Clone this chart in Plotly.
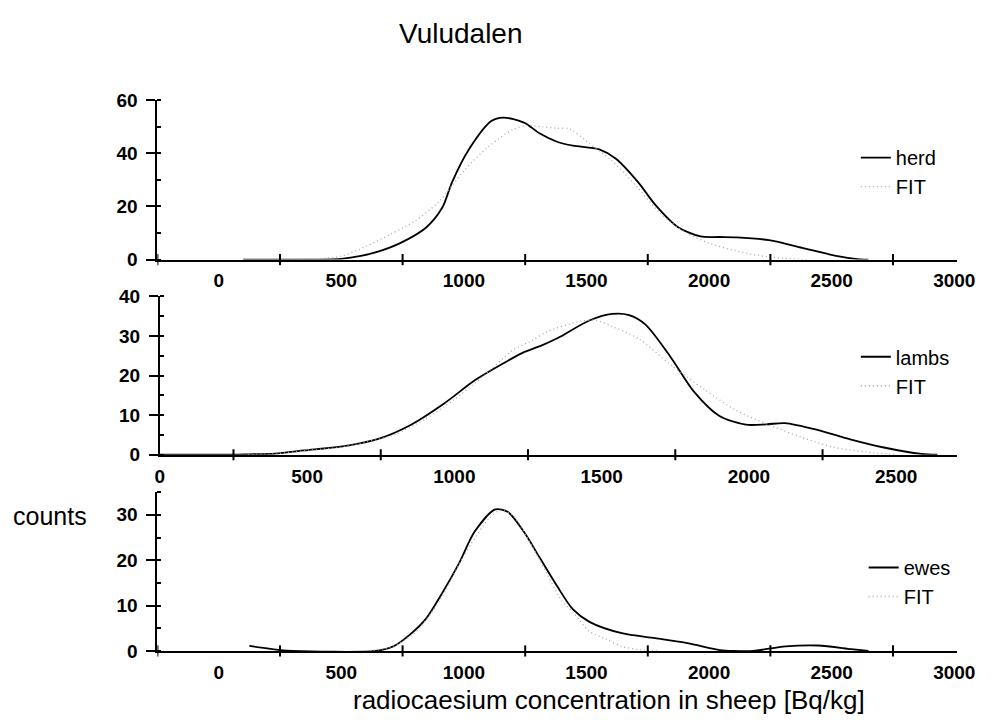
import plotly.graph_objects as go

# ---------------- data ----------------
herd_x = [100, 260, 400, 500, 580, 650, 740, 845, 912, 952, 1019, 1112, 1160, 1245, 1310, 1380, 1445, 1552, 1620, 1712, 1780, 1872, 1965, 2040, 2112, 2245, 2380, 2512, 2605, 2650]
herd_y = [0, 0, 0, 0.3, 1.4, 3, 6.2, 12, 19.6, 29.2, 41.3, 52.2, 53.5, 51.6, 47.5, 44.4, 42.9, 41.5, 38, 29, 20.7, 12.3, 8.7, 8.5, 8.4, 7.3, 4.4, 1.5, 0.2, 0]
herd_fit_x = [300, 400, 500, 600, 700, 800, 900, 1000, 1100, 1200, 1260, 1320, 1380, 1432, 1512, 1600, 1700, 1800, 1900, 2000, 2100, 2200, 2300, 2400]
herd_fit_y = [0, 0.3, 1.3, 5, 9.5, 14.5, 22, 33.5, 42.5, 49, 50.6, 50, 49.5, 49.2, 43.7, 37.5, 28, 17.5, 10.5, 6.2, 3.5, 1.6, 0.5, 0]

lambs_x = [0, 250, 300, 390, 490, 643, 742, 853, 964, 1073, 1185, 1238, 1295, 1351, 1460, 1536, 1593, 1649, 1735, 1814, 1900, 1990, 2060, 2122, 2232, 2344, 2454, 2586, 2640]
lambs_y = [0, 0, 0.1, 0.3, 1.1, 2.4, 4, 7.6, 12.9, 19, 23.9, 26, 27.6, 29.5, 34, 35.6, 35.3, 32.9, 24.6, 15.9, 9.8, 7.6, 7.7, 8, 6.3, 3.9, 1.9, 0.2, 0]
lambs_fit_x = [300, 400, 500, 600, 700, 800, 900, 1000, 1100, 1200, 1262, 1317, 1427, 1480, 1536, 1626, 1735, 1847, 1957, 2066, 2179, 2288, 2397, 2500]
lambs_fit_y = [0, 0.3, 1.1, 1.8, 3.2, 5.2, 9, 14, 20, 26.5, 28.8, 31.2, 33.7, 34, 32.4, 29.3, 22.7, 16.6, 11.2, 7.6, 4.4, 1.9, 0.7, 0]

ewes_x = [125, 250, 300, 640, 712, 780, 844, 912, 980, 1044, 1128, 1180, 1244, 1312, 1380, 1444, 1512, 1644, 1780, 1912, 2044, 2100, 2180, 2312, 2444, 2580, 2650]
ewes_y = [1.1, 0.2, 0, 0, 1, 3.6, 7, 12.8, 19.3, 26.3, 31.2, 30.6, 26.3, 20.3, 14.3, 9.2, 6.4, 3.9, 2.8, 1.7, 0.2, 0, 0, 1, 1.2, 0.4, 0]
ewes_fit_x = [600, 700, 800, 900, 1000, 1100, 1150, 1200, 1300, 1400, 1444, 1512, 1580, 1644, 1712, 1800]
ewes_fit_y = [0, 0.8, 4, 11, 21, 29, 31, 29.8, 21, 11, 8.6, 4.3, 2.6, 1, 0.3, 0]

series_names = ["herd", "lambs", "ewes"]
fit_name = "FIT"

x_labels_wide = [0, 500, 1000, 1500, 2000, 2500, 3000]
x_marks_wide = [-250, 250, 750, 1250, 1750, 2250, 2750]
x_labels_mid = [0, 500, 1000, 1500, 2000, 2500]
x_marks_mid = [250, 750, 1250, 1750, 2250]

title_text = "Vuludalen"
x_title = "radiocaesium concentration in sheep [Bq/kg]"
y_title = "counts"

# ---------------- layout helpers ----------------
W, H = 995, 727
FONT = "Arial, 'Liberation Sans', Helvetica, sans-serif"

def py(p):
    return (H - p) / H

def pxw(p):
    return p / W

panels = [
    dict(sx=herd_x, sy=herd_y, fx=herd_fit_x, fy=herd_fit_y, name=series_names[0],
         xdom=[pxw(156), pxw(975)], xr=[-250, 3013], ydom=[py(257), py(93)], yr=[0, 60],
         ydt=20, labels=x_labels_wide, marks=x_marks_wide, leg_x=pxw(871), leg_y=py(132)),
    dict(sx=lambs_x, sy=lambs_y, fx=lambs_fit_x, fy=lambs_fit_y, name=series_names[1],
         xdom=[pxw(158.5), pxw(975)], xr=[0, 2708], ydom=[py(458), py(295)], yr=[0, 40],
         ydt=10, labels=x_labels_mid, marks=x_marks_mid, leg_x=pxw(871), leg_y=py(337)),
    dict(sx=ewes_x, sy=ewes_y, fx=ewes_fit_x, fy=ewes_fit_y, name=series_names[2],
         xdom=[pxw(156), pxw(975)], xr=[-250, 3013], ydom=[py(660), py(496)], yr=[0, 35.1],
         ydt=10, labels=x_labels_wide, marks=x_marks_wide, leg_x=pxw(879), leg_y=py(554)),
]

fig = go.Figure()
layout = dict(
    width=W, height=H, margin=dict(l=0, r=0, t=0, b=0),
    paper_bgcolor="white", plot_bgcolor="white",
    font=dict(family=FONT, color="black"),
    showlegend=True,
)
shapes = []
for i, p in enumerate(panels, start=1):
    sfx = "" if i == 1 else str(i)
    leg = "legend" if i == 1 else f"legend{i}"
    fig.add_trace(go.Scatter(
        x=p["sx"], y=p["sy"], mode="lines", name=p["name"],
        line=dict(color="black", width=1.8, shape="spline", smoothing=0.8),
        xaxis=f"x{sfx}", yaxis=f"y{sfx}", legend=leg))
    fig.add_trace(go.Scatter(
        x=p["fx"], y=p["fy"], mode="lines", name=fit_name,
        line=dict(color="#a8a8a8", width=1.3, dash="1px,3px", shape="spline", smoothing=0.8),
        xaxis=f"x{sfx}", yaxis=f"y{sfx}", legend=leg))
    layout[f"xaxis{sfx}"] = dict(
        domain=p["xdom"], range=p["xr"], anchor=f"y{sfx}",
        showline=True, linecolor="black", linewidth=2, zeroline=False, showgrid=False,
        tickmode="array", tickvals=p["labels"], ticktext=[str(v) for v in p["labels"]],
        ticks="", ticklabelstandoff=3,
        tickfont=dict(size=19, family=FONT, weight="bold", color="black"),
    )
    layout[f"yaxis{sfx}"] = dict(
        domain=p["ydom"], range=p["yr"], anchor=f"x{sfx}",
        showline=True, linecolor="black", linewidth=2, zeroline=False, showgrid=False,
        tickmode="linear", tick0=0, dtick=p["ydt"],
        ticks="outside", ticklen=9, tickwidth=2, tickcolor="black", ticklabelstandoff=5,
        tickfont=dict(size=19, family=FONT, weight="bold", color="black"),
        minor=dict(ticks="inside", ticklen=4, tickwidth=1.5, tickcolor="black",
                   tickmode="linear", tick0=0, dtick=p["ydt"] / 2),
    )
    layout[leg] = dict(
        x=p["leg_x"], y=p["leg_y"], xanchor="left", yanchor="top",
        bgcolor="rgba(0,0,0,0)", borderwidth=0,
        font=dict(size=20, family=FONT, color="black"),
        tracegroupgap=0, itemwidth=30,
    )
    for v in p["marks"]:
        shapes.append(dict(type="line", xref=f"x{sfx}", yref=f"y{sfx} domain",
                           x0=v, x1=v, y0=-0.035, y1=0.035,
                           line=dict(color="black", width=2)))

layout["shapes"] = shapes
layout["annotations"] = [
    dict(text=title_text, x=pxw(467), y=py(24), xref="paper", yref="paper",
         xanchor="center", yanchor="middle", showarrow=False,
         font=dict(size=28, family=FONT, color="black")),
    dict(text=x_title, x=pxw(618), y=py(711), xref="paper", yref="paper",
         xanchor="center", yanchor="middle", showarrow=False,
         font=dict(size=26, family=FONT, color="black")),
    dict(text=y_title, x=pxw(86), y=py(521), xref="paper", yref="paper",
         xanchor="right", yanchor="middle", showarrow=False,
         font=dict(size=25, family=FONT, color="black")),
]
fig.update_layout(**layout)
fig.write_html(
    "out.html",
    config={"displayModeBar": False},
    post_script="document.body.style.margin='0';document.body.style.overflow='hidden';",
)
